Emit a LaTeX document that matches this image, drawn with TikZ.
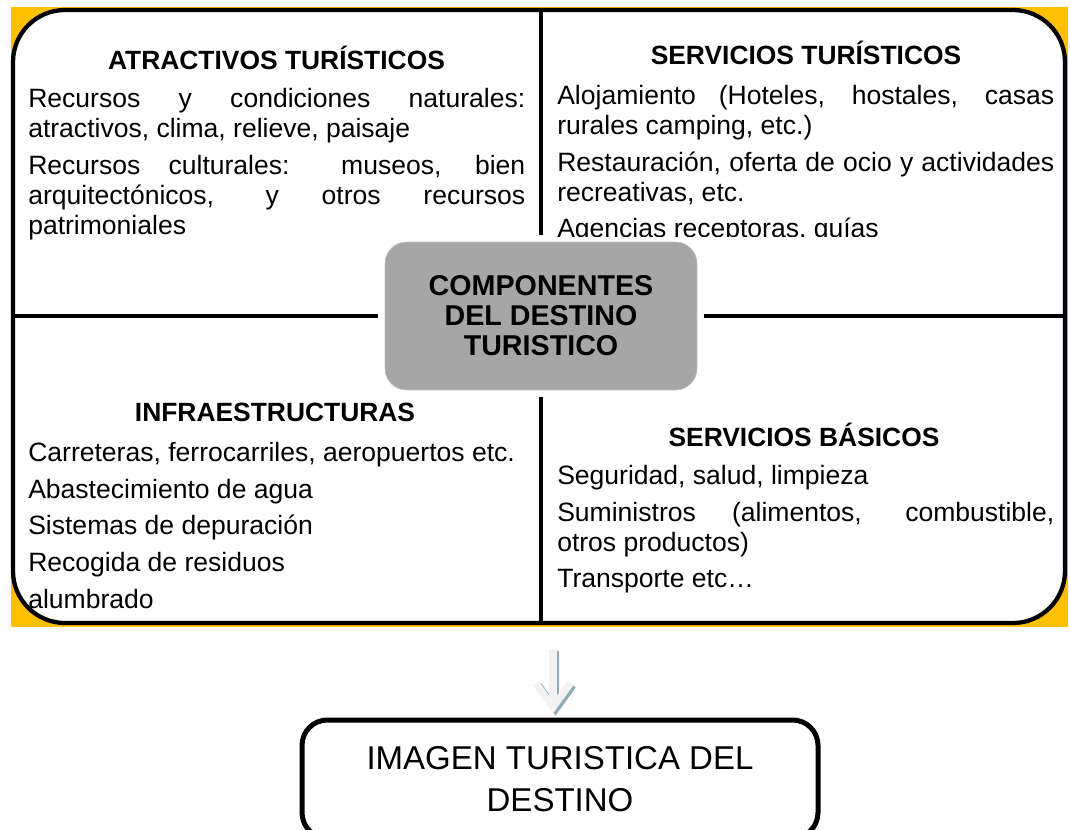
\documentclass[tikz,border=0pt]{standalone}
\usepackage{fontspec}
\setmainfont{Liberation Sans}
\usetikzlibrary{arrows.meta, calc}

\definecolor{amarillo}{HTML}{FFC000}
\definecolor{grisnodo}{HTML}{A6A6A6}
\definecolor{sombra}{HTML}{8FAAB6}
\definecolor{flechagris}{HTML}{F2F2F2}

\begin{document}
\begin{tikzpicture}[x=0.75pt, y=-0.75pt,
		titulo/.style={font=\fontsize{19.8}{22.5}\selectfont\bfseries, anchor=base, inner sep=0pt},
		cuerpo/.style={font=\fontsize{19.9}{22.5}\selectfont, anchor=north west, inner sep=0pt,
			text width=372.75pt, align=justify,
			execute at begin node={\setlength{\parskip}{5pt}\hyphenpenalty=10000}},
		divisor/.style={line width=3pt},
		flecha/.style={line width=5.5pt, -{Straight Barb[length=18pt, width=26pt]}}]
					
					\useasboundingbox (0,0) rectangle (1070,829);
					
					% Фон и рамка
					\fill[amarillo] (11,7) rectangle (1068,627);
					\node[draw, fill=white, line width=3.2pt, rounded corners=39pt, inner sep=0pt,
						minimum width=789pt, minimum height=459.75pt] (marco) at (539,316.5) {};
					
					% Центральный узел
					\node[fill=grisnodo, draw=gray!45, rounded corners=16pt, outer sep=5pt,
						minimum width=234pt, minimum height=111pt, align=center,
						font=\fontsize{21.5}{22.5}\selectfont\bfseries] (comp) at (541,316)
						{COMPONENTES\\DEL DESTINO\\TURISTICO};
					
					% Линии между частями
					\draw[divisor] (comp.north) -- (comp.north |- marco.north);
					\draw[divisor] (comp.south) -- (comp.south |- marco.south);
					\draw[divisor] (comp.west) -- (comp.west -| marco.west);
					\draw[divisor] (comp.east) -- (comp.east -| marco.east);
					
					% Заголовки
					\node[titulo] (atrTit) at (276.5,69.5) {ATRACTIVOS TURÍSTICOS};
					\node[titulo] (serTit) at (806,64.5) {SERVICIOS TURÍSTICOS};
					\node[titulo] (infTit) at (275,421.5) {INFRAESTRUCTURAS};
					\node[titulo] (basTit) at (804,446.5) {SERVICIOS BÁSICOS};
					
					% Тексты
					\node[cuerpo] (atrTxt) at (28,88) {Recursos y condiciones naturales:\linebreak
						atractivos, clima, relieve, paisaje\par
						Recursos culturales: museos, bien\linebreak arquitectónicos, y otros recursos\linebreak
						patrimoniales};
					\begin{scope}
						\clip (545,0) rectangle (1070,236);
						\node[cuerpo] (serTxt) at (557,85) {Alojamiento (Hoteles, hostales, casas\linebreak
							rurales camping, etc.)\par
							Restauración, oferta de ocio y actividades\linebreak recreativas, etc.\par
							Agencias receptoras, guías};
					\end{scope}
					\node[cuerpo] (infTxt) at (28,442) {Carreteras, ferrocarriles, aeropuertos etc.\par
						Abastecimiento de agua\par Sistemas de depuración\par
						Recogida de residuos\par alumbrado};
					\node[cuerpo] (basTxt) at (557,465) {Seguridad, salud, limpieza\par
						Suministros (alimentos, combustible,\linebreak otros productos)\par
						Transporte etc…};
					
					% Нижний узел
					\node[draw, line width=3.75pt, rounded corners=19pt, minimum width=387pt,
						minimum height=88.5pt, align=center, font=\fontsize{24.75}{32}\selectfont]
						(imagen) at (560,779) {IMAGEN TURISTICA DEL\\DESTINO};
					
					% Стрелка
					\coordinate (fIni) at ($(imagen.north |- marco.south)+(-7,24)$);
					\coordinate (fFin) at ($(imagen.north)+(-7,-4)$);
					\draw[flecha, sombra] ($(fIni)+(2.5,2)$) -- ($(fFin)+(2.5,2)$);
					\draw[flecha, flechagris] (fIni) -- (fFin);
				\end{tikzpicture}
\end{document}
